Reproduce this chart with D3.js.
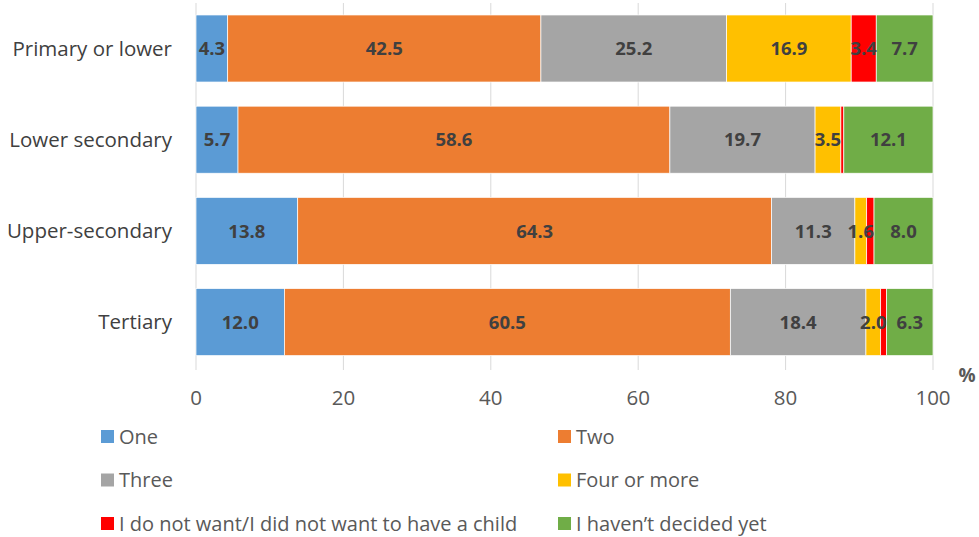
<!DOCTYPE html>
<html>
<head>
<meta charset="utf-8">
<script src="https://cdn.jsdelivr.net/npm/d3@7"></script>
<style>
  body { margin: 0; background: #fff; }
  svg { font-family: "Open Sans", sans-serif; }
</style>
</head>
<body>
<svg></svg>
<script>
let width = 979;
let height = 537;

let categories = ['Primary or lower', 'Lower secondary', 'Upper-secondary', 'Tertiary'];
let series = ['One', 'Two', 'Three', 'Four or more', 'I do not want/I did not want to have a child', 'I haven\u2019t decided yet'];
let colors = ['#5B9BD5', '#ED7D31', '#A5A5A5', '#FFC000', '#FF0000', '#70AD47'];

let one = [4.3, 5.7, 13.8, 12.0];
let two = [42.5, 58.6, 64.3, 60.5];
let three = [25.2, 19.7, 11.3, 18.4];
let fourPlus = [16.9, 3.5, 1.6, 2.0];
let noChild = [3.4, 0.4, 1.0, 0.8];
let undecided = [7.7, 12.1, 8.0, 6.3];
let ticks = [0, 20, 40, 60, 80, 100];

let values = [one, two, three, fourPlus, noChild, undecided];
let rows = categories.map((c, i) => {
  let r = { category: c };
  series.forEach((s, j) => r[s] = values[j][i]);
  return r;
});

let stacked = d3.stack().keys(series)(rows);

let xScale = d3.scaleLinear().domain([0, 100]).range([196, 933]);
let yScale = d3.scaleBand().domain(categories).range([2.9, 367.7]).paddingInner(0.265).paddingOuter(0.1325);

let svg = d3.select('svg').attr('width', width).attr('height', height);

// gridlines
svg.append('g')
  .selectAll('line')
  .data(ticks)
  .enter()
  .append('line')
  .attr('x1', d => xScale(d))
  .attr('x2', d => xScale(d))
  .attr('y1', 3)
  .attr('y2', 370)
  .attr('stroke', '#D9D9D9')
  .attr('stroke-width', 1);

// tick labels
svg.append('g')
  .selectAll('text')
  .data(ticks)
  .enter()
  .append('text')
  .attr('x', d => xScale(d))
  .attr('y', 405)
  .attr('text-anchor', 'middle')
  .attr('fill', '#595959')
  .style('font-size', '20.5px')
  .text(d => d);

svg.append('text')
  .attr('x', 967)
  .attr('y', 382)
  .attr('text-anchor', 'middle')
  .attr('fill', '#595959')
  .style('font-size', '19px')
  .style('font-weight', 'bold')
  .text('%');

// bars
let groups = svg.append('g')
  .selectAll('g')
  .data(stacked)
  .enter()
  .append('g')
  .attr('fill', (d, i) => colors[i]);

groups.selectAll('rect')
  .data(d => d)
  .enter()
  .append('rect')
  .attr('x', d => xScale(d[0]))
  .attr('width', d => xScale(d[1]) - xScale(d[0]))
  .attr('y', d => yScale(d.data.category))
  .attr('height', yScale.bandwidth())
  .attr('stroke', '#fff')
  .attr('stroke-width', 0.7);

// value labels on top of all bars (small red slices are left unlabelled)
let labels = [];
stacked.forEach(s => s.forEach(p => {
  let v = p[1] - p[0];
  if (v >= 1.5) labels.push({ p: p, v: v });
}));

svg.append('g')
  .selectAll('text')
  .data(labels)
  .enter()
  .append('text')
  .attr('x', d => (xScale(d.p[0]) + xScale(d.p[1])) / 2)
  .attr('y', d => yScale(d.p.data.category) + yScale.bandwidth() / 2)
  .attr('dy', '0.36em')
  .attr('text-anchor', 'middle')
  .attr('fill', '#404040')
  .style('font-size', '18.5px')
  .style('font-weight', 'bold')
  .text(d => d.v.toFixed(1));

// category labels
svg.append('g')
  .selectAll('text')
  .data(categories)
  .enter()
  .append('text')
  .attr('x', 172)
  .attr('y', d => yScale(d) + yScale.bandwidth() / 2)
  .attr('dy', '0.36em')
  .attr('text-anchor', 'end')
  .attr('fill', '#404040')
  .style('font-size', '20.5px')
  .text(d => d);

// legend
let legend = svg.append('g')
  .selectAll('g')
  .data(series)
  .enter()
  .append('g')
  .attr('transform', (d, i) => 'translate(' + (i % 2 === 0 ? 101 : 558) + ',' + (437 + Math.floor(i / 2) * 43.5) + ')');

legend.append('rect')
  .attr('x', 0)
  .attr('y', -7)
  .attr('width', 13)
  .attr('height', 13)
  .attr('fill', (d, i) => colors[i]);

legend.append('text')
  .attr('x', 18)
  .attr('y', 0)
  .attr('dy', '0.33em')
  .attr('fill', '#595959')
  .style('font-size', '20px')
  .text(d => d);
</script>
</body>
</html>
